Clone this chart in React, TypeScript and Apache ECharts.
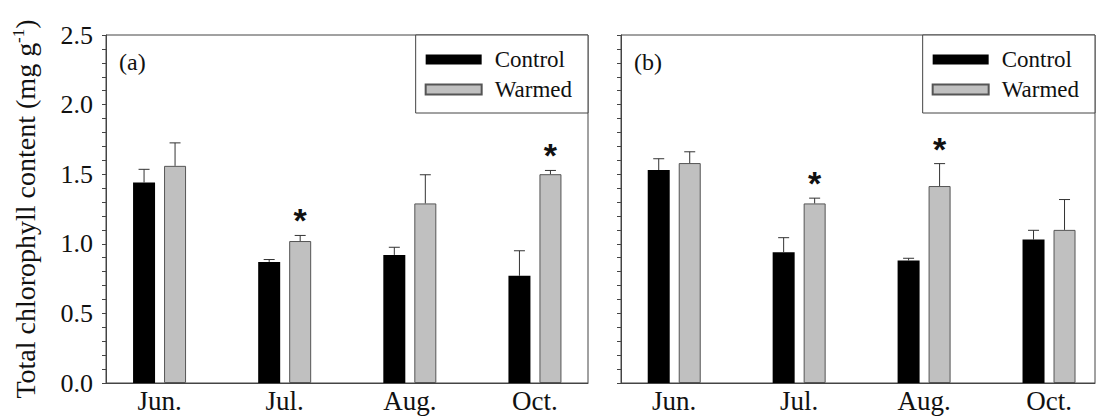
import React, { useEffect, useRef } from "react";
import * as echarts from "echarts";

const months = ["Jun.", "Jul.", "Aug.", "Oct."];
const monthPos = [0, 1, 2, 3];
const yTicks = [0, 0.5, 1.0, 1.5, 2.0, 2.5];

const controlA = [1.44, 0.87, 0.92, 0.77];
const controlAErr = [0.095, 0.017, 0.055, 0.18];
const warmedA = [1.56, 1.02, 1.29, 1.5];
const warmedAErr = [0.165, 0.04, 0.206, 0.027];
const starA = [0, 1, 0, 1];

const controlB = [1.53, 0.94, 0.88, 1.03];
const controlBErr = [0.081, 0.104, 0.016, 0.067];
const warmedB = [1.58, 1.29, 1.415, 1.1];
const warmedBErr = [0.081, 0.038, 0.161, 0.218];
const starB = [0, 1, 1, 0];

const SERIF = "Liberation Serif";
const BAR_W = 22;
const BAR_GAP = 9;
const OFF = (BAR_W + BAR_GAP) / 2;

function errSeries(name: string, idx: number, vals: number[], errs: number[], stars: number[], off: number) {
  return {
    type: "custom",
    name,
    xAxisIndex: idx,
    yAxisIndex: idx,
    z: 5,
    encode: { x: 0, y: 1 },
    data: vals.map((v, i) => [monthPos[i], v, errs[i], stars[i]]),
    renderItem: (params: any, api: any) => {
      const x = api.value(0);
      const v = api.value(1);
      const e = api.value(2);
      const s = api.value(3);
      const base = api.coord([x, v]);
      const top = api.coord([x, v + e]);
      const cx = base[0] + off;
      const children: any[] = [
        { type: "line", shape: { x1: cx, y1: base[1], x2: cx, y2: top[1] }, style: { stroke: "#333", lineWidth: 1 } },
        { type: "line", shape: { x1: cx - 5.5, y1: top[1], x2: cx + 5.5, y2: top[1] }, style: { stroke: "#333", lineWidth: 1 } },
      ];
      if (s) {
        children.push({
          type: "text",
          style: {
            text: "*",
            x: cx,
            y: top[1] - 15,
            align: "center",
            verticalAlign: "middle",
            fontSize: 34,
            fontWeight: "bold",
            fontFamily: "Liberation Sans",
            fill: "#111",
          },
        });
      }
      return { type: "group", children };
    },
  };
}

function barSeries(name: string, idx: number, vals: number[], color: string, border: string, bw: number) {
  return {
    type: "bar",
    name,
    xAxisIndex: idx,
    yAxisIndex: idx,
    barWidth: BAR_W,
    barGap: `${(BAR_GAP / BAR_W) * 100}%`,
    itemStyle: { color, borderColor: border, borderWidth: bw },
    data: vals.map((v, i) => [monthPos[i], v]),
  };
}

export default function App() {
  const ref = useRef<HTMLDivElement>(null);
  useEffect(() => {
    if (!ref.current) return;
    const chart = echarts.init(ref.current, undefined, { renderer: "svg" });
    const xAxisBase = (idx: number, min: number, max: number) => ({
      type: "value",
      gridIndex: idx,
      min,
      max,
      axisLine: { show: true, onZero: false, lineStyle: { color: "#444", width: 1 } },
      axisTick: { show: false },
      splitLine: { show: false },
      axisLabel: {
        customValues: monthPos,
        formatter: (v: number) => months[Math.round(v)] ?? "",
        fontSize: 27,
        fontFamily: SERIF,
        color: "#111",
        margin: 4,
      },
    });
    const yAxisBase = (idx: number, showLabel: boolean) => ({
      type: "value",
      gridIndex: idx,
      min: yTicks[0],
      max: yTicks[yTicks.length - 1],
      interval: 0.5,
      axisLine: { show: true, onZero: false, lineStyle: { color: "#444", width: 1 } },
      axisTick: { show: true, length: 4, inside: false, lineStyle: { color: "#444" } },
      minorTick: { show: true, splitNumber: 5, length: 4, lineStyle: { color: "#444" } },
      splitLine: { show: false },
      axisLabel: {
        show: showLabel,
        formatter: (v: number) => v.toFixed(1),
        fontSize: 26,
        fontFamily: SERIF,
        color: "#111",
        margin: 13,
      },
      ...(showLabel
        ? {
            name: "Total chlorophyll content (mg g{sup|-1})",
            nameLocation: "middle",
            nameGap: 66,
            nameTextStyle: {
              fontSize: 28,
              fontFamily: SERIF,
              color: "#111",
              lineHeight: 30,
              rich: { sup: { fontSize: 17, fontFamily: SERIF, color: "#111", verticalAlign: "top", lineHeight: 17 } },
            },
          }
        : {}),
    });
    const legendBase = (right: number) => ({
      orient: "vertical",
      right,
      top: 35,
      data: ["Control", "Warmed"],
      icon: "rect",
      itemWidth: 56,
      itemHeight: 10,
      itemGap: 7,
      padding: [13, 16, 12, 9],
      borderColor: "#444",
      borderWidth: 1,
      backgroundColor: "#fff",
      selectedMode: false,
      textStyle: { fontSize: 23, fontFamily: SERIF, color: "#111", padding: [0, 0, 0, 8] },
    });
    chart.setOption({
      animation: false,
      backgroundColor: "#fff",
      textStyle: { fontFamily: SERIF },
      title: [
        { text: "(a)", left: 114, top: 45, textStyle: { fontSize: 24, fontWeight: "normal", fontFamily: SERIF, color: "#111" } },
        { text: "(b)", left: 629, top: 45, textStyle: { fontSize: 24, fontWeight: "normal", fontFamily: SERIF, color: "#111" } },
      ],
      legend: [legendBase(1097 - 588), legendBase(2)],
      grid: [
        { left: 106, top: 35, width: 482, height: 348, show: true, borderColor: "#444", borderWidth: 1, containLabel: false },
        { left: 621, top: 35, width: 474, height: 348, show: true, borderColor: "#444", borderWidth: 1, containLabel: false },
      ],
      xAxis: [xAxisBase(0, -0.428, 3.424), xAxisBase(1, -0.426, 3.368)],
      yAxis: [yAxisBase(0, true), yAxisBase(1, false)],
      series: [
        barSeries("Control", 0, controlA, "#000", "#000", 0),
        barSeries("Warmed", 0, warmedA, "#c0c0c0", "#555", 1),
        errSeries("Control SE a", 0, controlA, controlAErr, [0, 0, 0, 0], -OFF),
        errSeries("Warmed SE a", 0, warmedA, warmedAErr, starA, OFF),
        barSeries("Control", 1, controlB, "#000", "#000", 0),
        barSeries("Warmed", 1, warmedB, "#c0c0c0", "#555", 1),
        errSeries("Control SE b", 1, controlB, controlBErr, [0, 0, 0, 0], -OFF),
        errSeries("Warmed SE b", 1, warmedB, warmedBErr, starB, OFF),
      ],
    });
    return () => chart.dispose();
  }, []);
  return <div ref={ref} style={{ position: "fixed", left: 0, top: 0, width: 1097, height: 418 }} />;
}
